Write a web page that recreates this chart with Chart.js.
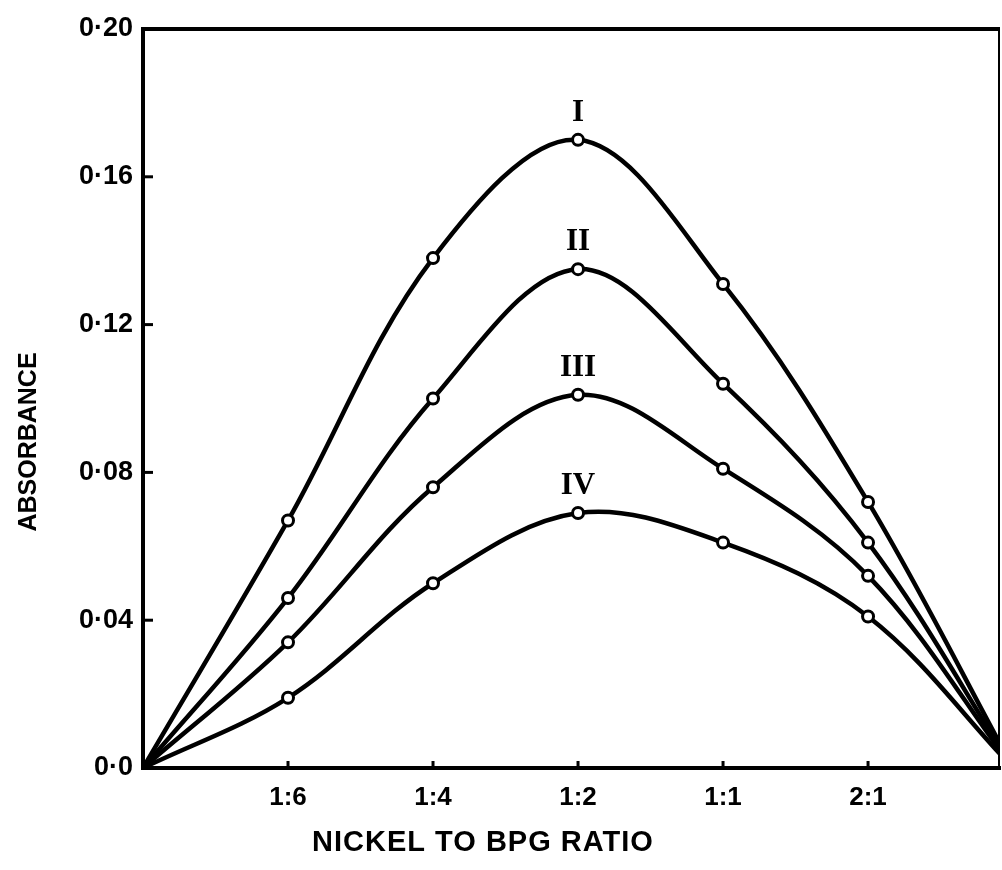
<!DOCTYPE html>
<html>
<head>
<meta charset="utf-8">
<script src="https://cdn.jsdelivr.net/npm/chart.js@4/dist/chart.umd.min.js"></script>
<style>
  html, body { margin: 0; padding: 0; background: #ffffff; overflow: hidden; }
  canvas { display: block; }
</style>
</head>
<body>
<canvas id="c" width="1002" height="870"></canvas>
<script>
// ---- data ----
const xLabels = ['', '1:6', '1:4', '1:2', '1:1', '2:1', ''];
const xPositions = [0, 1, 2, 3, 4, 5, 6];
const seriesNames = ['I', 'II', 'III', 'IV'];
const seriesI   = [0, 0.067, 0.138, 0.170, 0.131, 0.072, 0];
const seriesII  = [0, 0.046, 0.100, 0.135, 0.104, 0.061, 0];
const seriesIII = [0, 0.034, 0.076, 0.101, 0.081, 0.052, 0];
const seriesIV  = [0, 0.019, 0.050, 0.069, 0.061, 0.041, 0];
const yTickValues = [0, 0.04, 0.08, 0.12, 0.16, 0.20];
const yTickLabels = ['0·0', '0·04', '0·08', '0·12', '0·16', '0·20'];
const xTitle = 'NICKEL TO BPG RATIO';
const yTitle = 'ABSORBANCE';

const allSeries = [seriesI, seriesII, seriesIII, seriesIV];
const markerRadius = xPositions.map((x, i) => (xLabels[i] === '' ? 0 : 5.5));

const datasets = allSeries.map((s, k) => ({
  label: seriesNames[k],
  data: xPositions.map((x, i) => ({ x: x, y: s[i] })),
  borderColor: '#000',
  borderWidth: 4.5,
  tension: 0.35,
  pointRadius: markerRadius,
  pointBorderWidth: 3,
  pointBorderColor: '#000',
  pointBackgroundColor: '#fff',
  clip: { left: 6, top: 6, right: 0, bottom: 6 }
}));

const decor = {
  id: 'decor',
  beforeDraw(chart) {
    const ctx = chart.ctx;
    ctx.save();
    ctx.fillStyle = '#fff';
    ctx.fillRect(0, 0, chart.width, chart.height);
    ctx.restore();
  },
  afterDraw(chart) {
    const ctx = chart.ctx;
    const a = chart.chartArea;
    const xs = chart.scales.x, ys = chart.scales.y;
    ctx.save();
    ctx.strokeStyle = '#000';
    ctx.lineCap = 'butt';
    // frame: thick top, thin right
    ctx.lineWidth = 4;
    ctx.beginPath(); ctx.moveTo(a.left - 2, a.top); ctx.lineTo(a.right, a.top); ctx.stroke();
    ctx.lineWidth = 2;
    ctx.beginPath(); ctx.moveTo(a.right - 1, a.top); ctx.lineTo(a.right - 1, a.bottom); ctx.stroke();
    // inward ticks
    ctx.lineWidth = 3;
    yTickValues.forEach(v => {
      if (v <= 0 || v >= 0.2) return;
      const py = ys.getPixelForValue(v);
      ctx.beginPath(); ctx.moveTo(a.left, py); ctx.lineTo(a.left + 10, py); ctx.stroke();
    });
    xPositions.forEach((x, i) => {
      if (xLabels[i] === '') return;
      const px = xs.getPixelForValue(x);
      ctx.beginPath(); ctx.moveTo(px, a.bottom); ctx.lineTo(px, a.bottom - 7); ctx.stroke();
    });
    // curve labels above each peak
    ctx.fillStyle = '#000';
    ctx.font = 'bold 31px "Liberation Serif", serif';
    ctx.textAlign = 'center';
    ctx.textBaseline = 'alphabetic';
    chart.data.datasets.forEach((ds, k) => {
      const meta = chart.getDatasetMeta(k);
      let best = 0;
      ds.data.forEach((p, i) => { if (p.y > ds.data[best].y) best = i; });
      const el = meta.data[best];
      ctx.fillText(ds.label, el.x, el.y - 19);
    });
    // axis titles
    ctx.font = 'bold 25px "Liberation Sans", sans-serif';
    ctx.textBaseline = 'middle';
    ctx.save();
    ctx.translate(29, 442);
    ctx.rotate(-Math.PI / 2);
    ctx.fillText(yTitle, 0, 0);
    ctx.restore();
    ctx.font = 'bold 29px "Liberation Sans", sans-serif';
    try { ctx.letterSpacing = '1px'; } catch (e) {}
    ctx.fillText(xTitle, 483, 843);
    ctx.restore();
  }
};

new Chart(document.getElementById('c'), {
  type: 'line',
  data: { datasets: datasets },
  options: {
    responsive: false,
    animation: false,
    layout: { padding: { top: 29, right: 2, left: 0, bottom: 0 } },
    plugins: { legend: { display: false }, tooltip: { enabled: false }, title: { display: false } },
    scales: {
      x: {
        type: 'linear',
        min: 0,
        max: 5.91,
        afterBuildTicks(scale) {
          scale.ticks = xPositions.filter((x, i) => xLabels[i] !== '').map(v => ({ value: v }));
        },
        afterFit(scale) { scale.height = 102; },
        grid: { display: false, drawTicks: false },
        border: { display: true, color: '#000', width: 4 },
        ticks: {
          padding: 14,
          color: '#000',
          maxRotation: 0,
          autoSkip: false,
          font: { family: '"Liberation Sans", sans-serif', size: 26, weight: 'bold' },
          callback: (v) => xLabels[xPositions.indexOf(v)] || ''
        }
      },
      y: {
        min: 0,
        max: 0.2,
        afterBuildTicks(scale) {
          scale.ticks = yTickValues.map(v => ({ value: v }));
        },
        afterFit(scale) { scale.width = 143; },
        grid: { display: false, drawTicks: false },
        border: { display: true, color: '#000', width: 4 },
        ticks: {
          padding: 10,
          color: '#000',
          autoSkip: false,
          font: { family: '"Liberation Sans", sans-serif', size: 27, weight: 'bold' },
          callback: (v, i) => yTickLabels[i]
        }
      }
    }
  },
  plugins: [decor]
});
</script>
</body>
</html>
